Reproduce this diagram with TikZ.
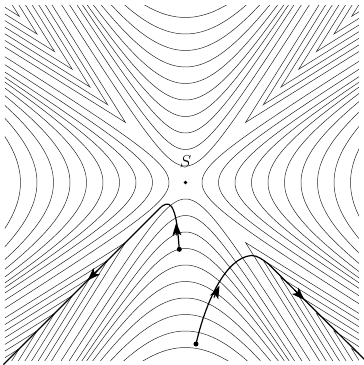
\documentclass[tikz,border=0pt]{standalone}
\usetikzlibrary{arrows.meta}
\begin{document}
\begin{tikzpicture}[x=1pt,y=1pt,
  cl/.style={line width=0.5pt, black!85},
  traj/.style={line width=1.2pt, black},
  head/.style={line width=1.2pt, -{Stealth[length=13pt,width=9pt,inset=3pt]}},
  dot/.style={circle, fill=black, inner sep=0pt, minimum size=5pt}]
\useasboundingbox (-185.5,-182.5) rectangle (178.5,182.5);
\begin{scope}
\clip (-180.5,-177.5) rectangle (173.5,177.5);
\foreach \rot in {0,90,180,270}{
 \begin{scope}[rotate=\rot]
  % ridge family: hyperbolas with centre (0,yc), vertex at 16.5k, asymptote slope 1.6
  \foreach \k/\yc in {1/-24.8,2/-13.5,3/-4,4/0,5/0,6/0,7/0,8/0,9/0,10/0,11/0}{
    \pgfmathsetmacro{\A}{16.5*\k-\yc}
    \pgfmathsetmacro{\B}{\A/1.6}
    \draw[cl] plot[variable=\t, domain=-2.6:2.6, samples=131, smooth]
      ({\B*sinh(\t)},{\yc+\A*cosh(\t)});
  }
  % chevrons along the diagonal
  \begin{scope}[rotate=45]
   \foreach \j in {0,...,7}{
     \pgfmathsetmacro{\r}{85+25*\j}
     \draw[cl] ([shift={(13:400)}]\r,0) -- (\r,0) -- ([shift={(-13:400)}]\r,0);
   }
  \end{scope}
 \end{scope}
}
\end{scope}
\node[dot, minimum size=3.8pt] (S) at (0,0) {};
\node (Slab) at (0.2,21) {\fontsize{17}{17}\selectfont $S$};
\node[dot] (p1) at (-6.2,-66.8) {};
\node[dot] (p2) at (10.5,-161.5) {};
\coordinate (e1) at (-182,-182);
\coordinate (e2) at (180,-178);
\draw[traj] (p1.center) .. controls (-8,-45) and (-9,-32) .. (-14,-24) .. controls (-17,-20) and (-21,-21) .. (-26,-26) -- (e1);
\draw[traj] (p2.center) .. controls (20,-120) and (40,-75) .. (66,-73) .. controls (72,-73) and (77,-77) .. (83,-81.5) -- (e2);
\draw[head] (-8.6,-53) -- (-9.2,-40);
\draw[head] (-88,-88) -- (-98,-98);
\draw[head] (28.5,-115) -- (34,-103);
\draw[head] (109,-107.5) -- (119,-117.5);
\end{tikzpicture}
\end{document}
